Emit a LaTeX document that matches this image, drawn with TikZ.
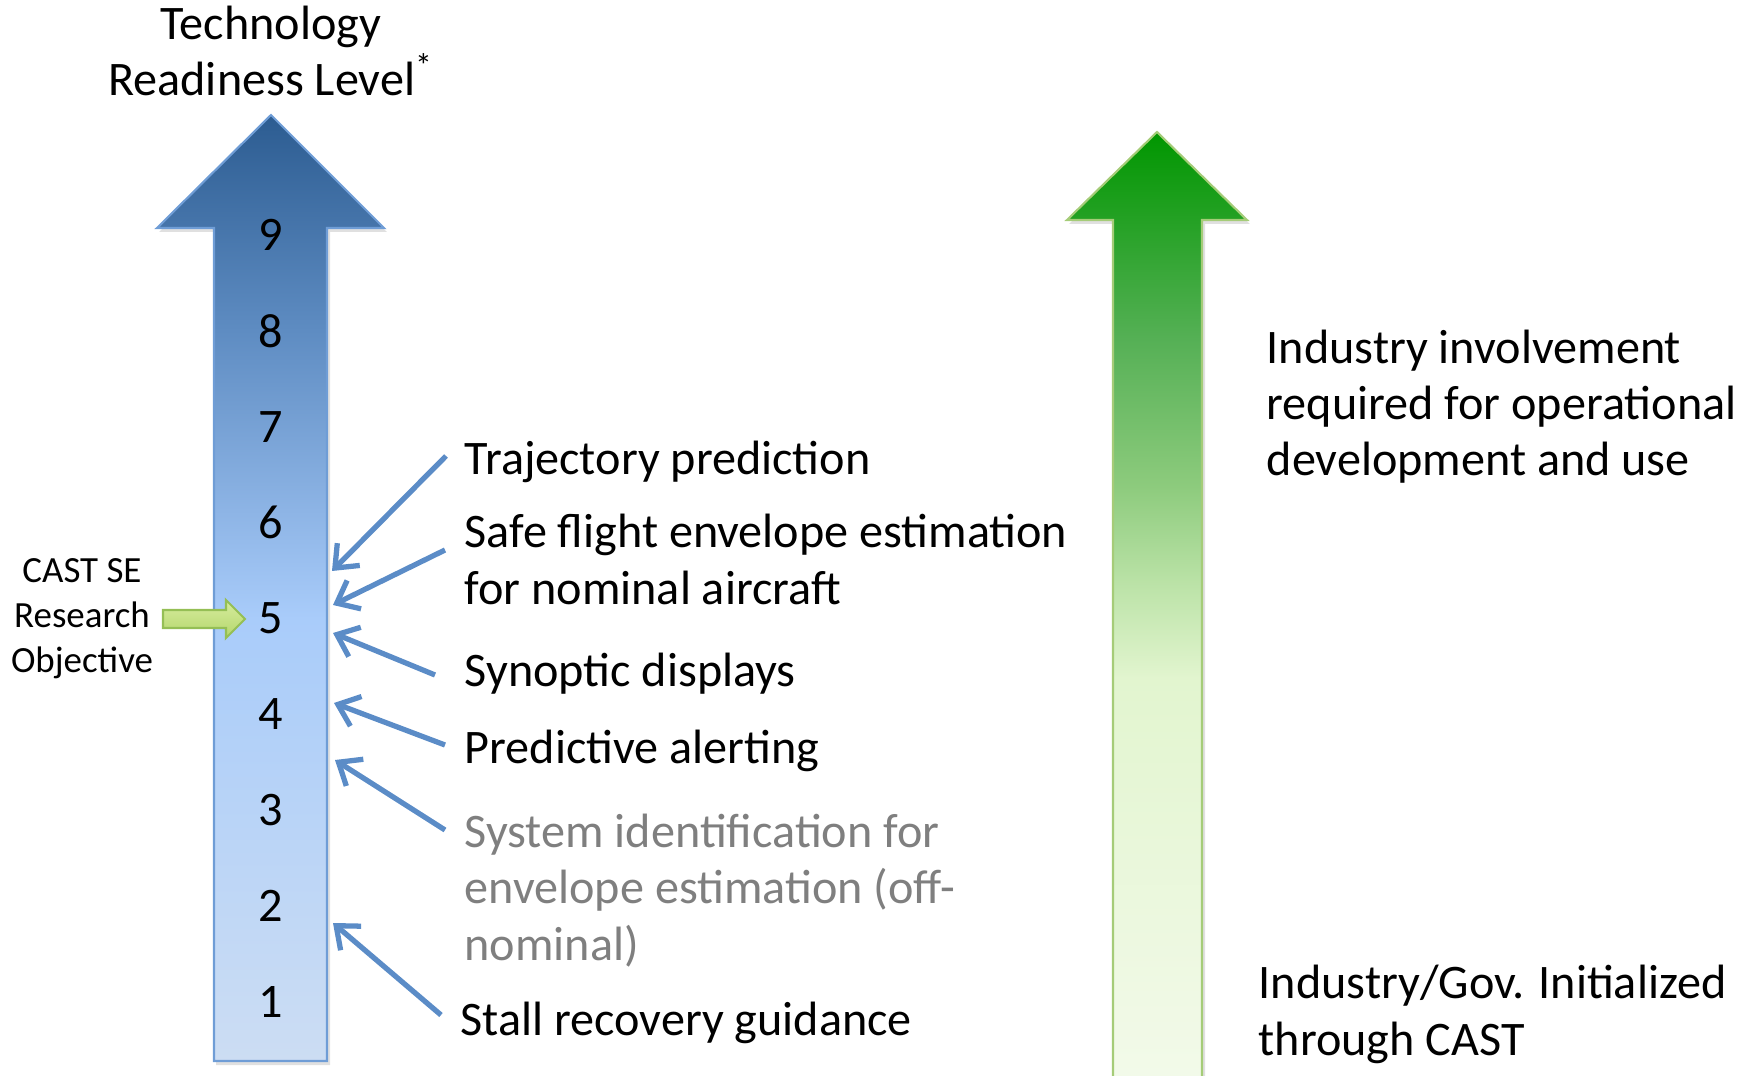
\documentclass[tikz,border=0pt]{standalone}
\usepackage{fontspec}
\setmainfont{Carlito}
\usetikzlibrary{arrows.meta}
\definecolor{connblue}{HTML}{5B8CC7}
\definecolor{bT}{HTML}{2C5C91}
\definecolor{bU}{HTML}{5E8CC2}
\definecolor{bM}{HTML}{A9CCFA}
\definecolor{bB}{HTML}{CCDDF3}
\definecolor{bEdge}{HTML}{6F9DD6}
\definecolor{gT}{HTML}{009600}
\definecolor{gA}{HTML}{55B055}
\definecolor{gC}{HTML}{8DCB7D}
\definecolor{gD}{HTML}{BCE3A8}
\definecolor{gE}{HTML}{E2F5CF}
\definecolor{gB}{HTML}{F3FAEA}
\definecolor{gEdge}{HTML}{A5CC78}
\definecolor{limeT}{HTML}{D6EC9E}
\definecolor{limeB}{HTML}{B5D76C}
\definecolor{limeEdge}{HTML}{95BF55}
\definecolor{grayText}{HTML}{7F7F7F}
\pgfdeclareverticalshading{trlblue}{100bp}{color(0bp)=(bB); color(25bp)=(bB); color(48.4bp)=(bM); color(63.6bp)=(bU); color(75bp)=(bT); color(100bp)=(bT)}
\pgfdeclareverticalshading{indgreen}{100bp}{color(0bp)=(gB); color(25bp)=(gB); color(46.5bp)=(gE); color(51.3bp)=(gD); color(56.5bp)=(gC); color(64.2bp)=(gA); color(75bp)=(gT); color(100bp)=(gT)}
\tikzset{
  lbl/.style={anchor=base west, font=\fontsize{13.7}{16}\selectfont, align=left, inner sep=0pt},
  lvl/.style={font=\fontsize{13.7}{16}\selectfont, inner sep=0pt},
  conn/.style={draw=connblue, line width=1.5pt, -{Straight Barb[length=5.5pt,width=9pt]}},
  shadowfill/.style={fill=black, opacity=0.12},
}
\begin{document}
\begin{tikzpicture}[x=0.01cm,y=-0.01cm]
\useasboundingbox (0,0) rectangle (1750,1076);
% title (base = last line)
\node[anchor=base, align=center, font=\fontsize{13.7}{16}\selectfont, inner sep=0pt] (title) at (271,96) {Technology\\Readiness Level\textsuperscript{*}};
% blue TRL arrow
\fill[shadowfill] (273,119) -- (387,232) -- (330,232) -- (330,1065) -- (216,1065) -- (216,232) -- (159,232) -- cycle;
\shade[shading=trlblue, draw=bEdge, line width=0.6pt] (271,115) -- (384,228) -- (327,228) -- (327,1061) -- (214,1061) -- (214,228) -- (157,228) -- cycle;
\foreach \n in {1,...,9} {
  \node[lvl] (l\n) at (271,{235+(9-\n)*95.9}) {\n};
}
% green big arrow
\fill[shadowfill] (1159,136) -- (1250,224) -- (1205,224) -- (1205,1090) -- (1115,1090) -- (1115,224) -- (1069,224) -- cycle;
\shade[shading=indgreen, draw=gEdge, line width=0.6pt] (1157,132) -- (1247,220) -- (1202,220) -- (1202,1090) -- (1113,1090) -- (1113,220) -- (1067,220) -- cycle;
% CAST objective
\node[align=center, font=\fontsize{10.5}{12.75}\selectfont, inner sep=0pt] (cast) at (82,619) {CAST SE\\Research\\Objective};
\shade[top color=limeT, bottom color=limeB, draw=limeEdge, line width=0.6pt] (163,610) -- (226,610) -- (226,600) -- (245,619) -- (226,638) -- (226,628) -- (163,628) -- cycle;
% labels (base = last line)
\node[lbl] (traj) at (464,475) {Trajectory prediction};
\node[lbl] (safe) at (464,604) {Safe flight envelope estimation\\for nominal aircraft};
\node[lbl] (syn) at (464,687) {Synoptic displays};
\node[lbl] (pred) at (464,764) {Predictive alerting};
\node[lbl, text=grayText] (sysid) at (464,960) {System identification for\\envelope estimation (off-\\nominal)};
\node[lbl] (stall) at (460,1035) {Stall recovery guidance};
\node[lbl] (ind) at (1266,476) {Industry involvement\\required for operational\\development and use};
\node[lbl] (gov) at (1258,1055) {Industry/Gov. Initialized\\through CAST};
% connector end points
\coordinate (trajT) at (446,456); \coordinate (trajH) at (332,571);
\coordinate (safeT) at (445,550); \coordinate (safeH) at (333,605);
\coordinate (synT) at (435,675);  \coordinate (synH) at (333,633);
\coordinate (predT) at (445,745); \coordinate (predH) at (334,703);
\coordinate (sysT) at (445,830);  \coordinate (sysH) at (335,760);
\coordinate (stallT) at (441,1015); \coordinate (stallH) at (333,923);
\draw[conn] (trajT) -- (trajH);
\draw[conn] (safeT) -- (safeH);
\draw[conn] (synT) -- (synH);
\draw[conn] (predT) -- (predH);
\draw[conn] (sysT) -- (sysH);
\draw[conn] (stallT) -- (stallH);
\end{tikzpicture}
\end{document}
